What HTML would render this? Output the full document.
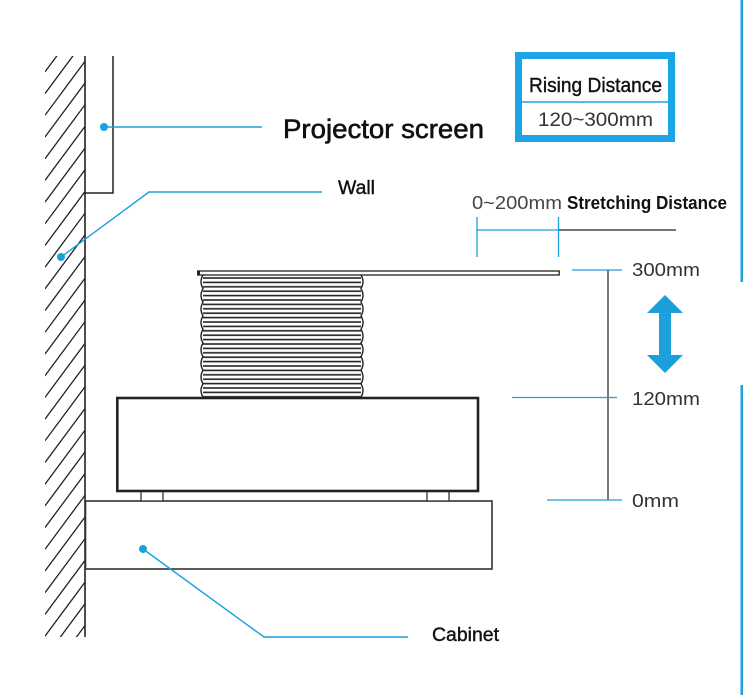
<!DOCTYPE html>
<html>
<head>
<meta charset="utf-8">
<style>
  html,body{margin:0;padding:0;background:#fff;}
  svg{display:block;}
  text{font-family:"Liberation Sans", sans-serif;}
</style>
</head>
<body>
<svg width="743" height="695" viewBox="0 0 743 695" xmlns="http://www.w3.org/2000/svg">
  <defs>
    <clipPath id="wallclip"><rect x="45" y="56" width="40" height="581"/></clipPath>
    <pattern id="bel" x="0" y="275" width="10" height="4.4" patternUnits="userSpaceOnUse">
      <rect x="0" y="2.2" width="10" height="1.6" fill="#222"/>
    </pattern>
  </defs>

  <!-- right blue bars -->
  <rect x="740.5" y="0" width="2.5" height="282" fill="#1ba0dc"/>
  <rect x="740.5" y="385" width="2.5" height="310" fill="#1ba0dc"/>

  <!-- wall hatch -->
  <g clip-path="url(#wallclip)" stroke="#222" stroke-width="1.3">
    <line x1="85" y1="-3.8" x2="45" y2="50.2"/>
    <line x1="85" y1="17.9" x2="45" y2="71.9"/>
    <line x1="85" y1="39.6" x2="45" y2="93.6"/>
    <line x1="85" y1="61.3" x2="45" y2="115.3"/>
    <line x1="85" y1="83.0" x2="45" y2="137.0"/>
    <line x1="85" y1="104.7" x2="45" y2="158.7"/>
    <line x1="85" y1="126.4" x2="45" y2="180.4"/>
    <line x1="85" y1="148.1" x2="45" y2="202.1"/>
    <line x1="85" y1="169.8" x2="45" y2="223.8"/>
    <line x1="85" y1="191.5" x2="45" y2="245.5"/>
    <line x1="85" y1="213.2" x2="45" y2="267.2"/>
    <line x1="85" y1="234.9" x2="45" y2="288.9"/>
    <line x1="85" y1="256.6" x2="45" y2="310.6"/>
    <line x1="85" y1="278.3" x2="45" y2="332.3"/>
    <line x1="85" y1="300.0" x2="45" y2="354.0"/>
    <line x1="85" y1="321.7" x2="45" y2="375.7"/>
    <line x1="85" y1="343.4" x2="45" y2="397.4"/>
    <line x1="85" y1="365.1" x2="45" y2="419.1"/>
    <line x1="85" y1="386.8" x2="45" y2="440.8"/>
    <line x1="85" y1="408.5" x2="45" y2="462.5"/>
    <line x1="85" y1="430.2" x2="45" y2="484.2"/>
    <line x1="85" y1="451.9" x2="45" y2="505.9"/>
    <line x1="85" y1="473.6" x2="45" y2="527.6"/>
    <line x1="85" y1="495.3" x2="45" y2="549.3"/>
    <line x1="85" y1="517.0" x2="45" y2="571.0"/>
    <line x1="85" y1="538.7" x2="45" y2="592.7"/>
    <line x1="85" y1="560.4" x2="45" y2="614.4"/>
    <line x1="85" y1="582.1" x2="45" y2="636.1"/>
    <line x1="85" y1="603.8" x2="45" y2="657.8"/>
    <line x1="85" y1="625.5" x2="45" y2="679.5"/>
    <line x1="85" y1="647.2" x2="45" y2="701.2"/>
  </g>
  <!-- wall line -->
  <line x1="85" y1="56" x2="85" y2="637" stroke="#222" stroke-width="1.6"/>

  <!-- projector screen -->
  <polyline points="113,56 113,193 85,193" fill="none" stroke="#222" stroke-width="1.5"/>

  <!-- cabinet -->
  <rect x="85.5" y="501" width="406.5" height="68" fill="#fff" stroke="#333" stroke-width="1.6"/>

  <!-- feet -->
  <rect x="141" y="491" width="22" height="10" fill="#fff" stroke="#333" stroke-width="1.3"/>
  <rect x="427" y="491" width="22" height="10" fill="#fff" stroke="#333" stroke-width="1.3"/>

  <!-- base box -->
  <rect x="117.3" y="398" width="360.7" height="93" fill="#fff" stroke="#222" stroke-width="2.6"/>

  <!-- bellows -->
  <rect x="203" y="275" width="158" height="122" fill="url(#bel)"/>
  <path d="M203,275 q-4,6.8 0,13.6 q-4,6.8 0,13.6 q-4,6.8 0,13.6 q-4,6.8 0,13.6 q-4,6.8 0,13.6 q-4,6.8 0,13.6 q-4,6.8 0,13.6 q-4,6.8 0,13.6 q-4,6.8 0,13.2" fill="none" stroke="#222" stroke-width="1.4"/>
  <path d="M361,275 q4,6.8 0,13.6 q4,6.8 0,13.6 q4,6.8 0,13.6 q4,6.8 0,13.6 q4,6.8 0,13.6 q4,6.8 0,13.6 q4,6.8 0,13.6 q4,6.8 0,13.6 q4,6.8 0,13.2" fill="none" stroke="#222" stroke-width="1.4"/>

  <!-- top plate -->
  <rect x="197.7" y="271" width="361.5" height="4" fill="#fff" stroke="#222" stroke-width="1.3"/>
  <rect x="197" y="270.5" width="3" height="5" fill="#222"/>

  <!-- stretching dimension -->
  <line x1="477" y1="230" x2="558" y2="230" stroke="#1ba0dc" stroke-width="1.3"/>
  <line x1="477" y1="217" x2="477" y2="257" stroke="#1ba0dc" stroke-width="1.3"/>
  <line x1="558.5" y1="217" x2="558.5" y2="257" stroke="#1ba0dc" stroke-width="1.3"/>
  <line x1="559" y1="230" x2="676" y2="230" stroke="#222" stroke-width="1.2"/>

  <!-- height dimension -->
  <line x1="608" y1="270" x2="608" y2="500" stroke="#333" stroke-width="1.3"/>
  <line x1="572" y1="270" x2="622" y2="270" stroke="#1ba0dc" stroke-width="1.3"/>
  <line x1="512" y1="397.5" x2="617" y2="397.5" stroke="#1ba0dc" stroke-width="1.3"/>
  <line x1="547" y1="500" x2="622" y2="500" stroke="#1ba0dc" stroke-width="1.3"/>

  <!-- double arrow -->
  <polygon points="665,295 683,313 671,313 671,355 683,355 665,373 647,355 659,355 659,313 647,313" fill="#1ba0dc"/>

  <!-- callouts -->
  <circle cx="104" cy="127" r="4" fill="#1ba0dc"/>
  <line x1="104" y1="127" x2="262" y2="127" stroke="#1ba0dc" stroke-width="1.4"/>

  <circle cx="61" cy="257" r="4" fill="#1ba0dc"/>
  <polyline points="61,257 149,192 322,192" fill="none" stroke="#1ba0dc" stroke-width="1.4"/>

  <circle cx="143" cy="549" r="4" fill="#1ba0dc"/>
  <polyline points="143,549 264,637 408,637" fill="none" stroke="#1ba0dc" stroke-width="1.4"/>

  <!-- rising distance box -->
  <rect x="515" y="52" width="160" height="90" fill="#1ba4e6"/>
  <rect x="522" y="59" width="146" height="76" fill="#fff"/>
  <line x1="522" y1="102" x2="668" y2="102" stroke="#1ba4e6" stroke-width="1.6"/>

  <!-- texts -->
  <text x="283" y="138" font-size="27" fill="#111" stroke="#111" stroke-width="0.6" textLength="201" lengthAdjust="spacingAndGlyphs">Projector screen</text>
  <text x="338" y="194" font-size="19" fill="#111" stroke="#111" stroke-width="0.4" textLength="37" lengthAdjust="spacingAndGlyphs">Wall</text>
  <text x="432" y="641" font-size="19" fill="#111" stroke="#111" stroke-width="0.4" textLength="67" lengthAdjust="spacingAndGlyphs">Cabinet</text>
  <text x="472" y="209" font-size="18" fill="#444" textLength="90" lengthAdjust="spacingAndGlyphs">0~200mm</text>
  <text x="567" y="209" font-size="18" font-weight="bold" fill="#111" textLength="160" lengthAdjust="spacingAndGlyphs">Stretching Distance</text>
  <text x="529" y="92" font-size="20" fill="#111" stroke="#111" stroke-width="0.4" textLength="133" lengthAdjust="spacingAndGlyphs">Rising Distance</text>
  <text x="538" y="126" font-size="19" fill="#333" textLength="115" lengthAdjust="spacingAndGlyphs">120~300mm</text>
  <text x="632" y="276" font-size="18" fill="#333" textLength="68" lengthAdjust="spacingAndGlyphs">300mm</text>
  <text x="632" y="405" font-size="18" fill="#333" textLength="68" lengthAdjust="spacingAndGlyphs">120mm</text>
  <text x="632" y="507" font-size="18" fill="#333" textLength="47" lengthAdjust="spacingAndGlyphs">0mm</text>
</svg>
</body>
</html>
